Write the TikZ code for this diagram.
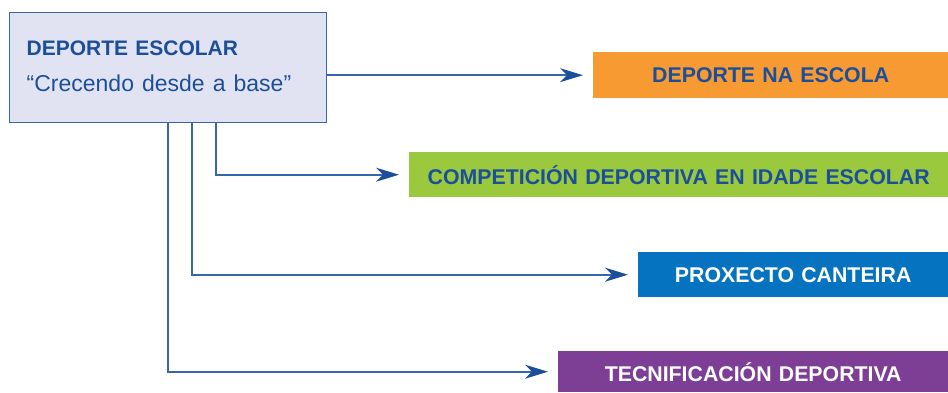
\documentclass[tikz,border=0pt]{standalone}
\usepackage{fontspec}
\setmainfont{Liberation Sans}
\usetikzlibrary{arrows.meta,calc}
\definecolor{dblue}{HTML}{1B4F9C}
\definecolor{lineblue}{HTML}{3866AD}
\definecolor{mainfill}{HTML}{E1E3F3}
\definecolor{borange}{HTML}{F79A32}
\definecolor{bgreen}{HTML}{9AC93D}
\definecolor{bblue}{HTML}{0573C0}
\definecolor{bpurple}{HTML}{7D3F95}
\newcommand{\bigbold}{\fontsize{21.3}{26}\selectfont\bfseries\spaceskip=0.34em\relax}
\tikzset{
  mainbox/.style={draw=lineblue, line width=1.4pt, fill=mainfill, anchor=north west,
    minimum width=317pt, minimum height=110pt, inner sep=0pt, text width=283pt,
    align=left, text=dblue},
  target/.style={anchor=north west, inner sep=0pt, minimum height=#1, align=center,
    font=\bigbold},
  conn/.style={draw=lineblue, line width=1.6pt, shorten >=10pt,
    -{Stealth[length=23pt,width=14pt,inset=7pt,color=dblue]}}
}
\begin{document}
\begin{tikzpicture}[x=1pt,y=-1pt]
\useasboundingbox (0,0) rectangle (948,392);
\node[mainbox] (main) at (9,12) {{\fontsize{21}{25}\selectfont\bfseries\spaceskip=0.34em\relax DEPORTE ESCOLAR\par}{\fontsize{23}{36}\selectfont\spaceskip=0.35em\relax “Crecendo desde a base”\par}\vspace*{3pt}};
\node[target=46pt, fill=borange, text=dblue, minimum width=355pt] (b1) at (593,52) {DEPORTE NA ESCOLA};
\node[target=45pt, fill=bgreen, text=dblue, minimum width=539pt] (b2) at (409,152) {COMPETICIÓN DEPORTIVA EN IDADE ESCOLAR};
\node[target=45pt, fill=bblue, text=white, minimum width=310pt] (b3) at (638,252) {PROXECTO CANTEIRA};
\node[target=41pt, fill=bpurple, text=white, minimum width=390pt] (b4) at (558,351) {TECNIFICACIÓN DEPORTIVA};
\draw[conn] (main.east |- b1.west) -- (b1.west);
\draw[conn] ([xshift=47.5pt]main.south) |- (b2.west);
\draw[conn] ([xshift=23.5pt]main.south) |- (b3.west);
\draw[conn] (main.south) |- (b4.west);
\end{tikzpicture}
\end{document}
